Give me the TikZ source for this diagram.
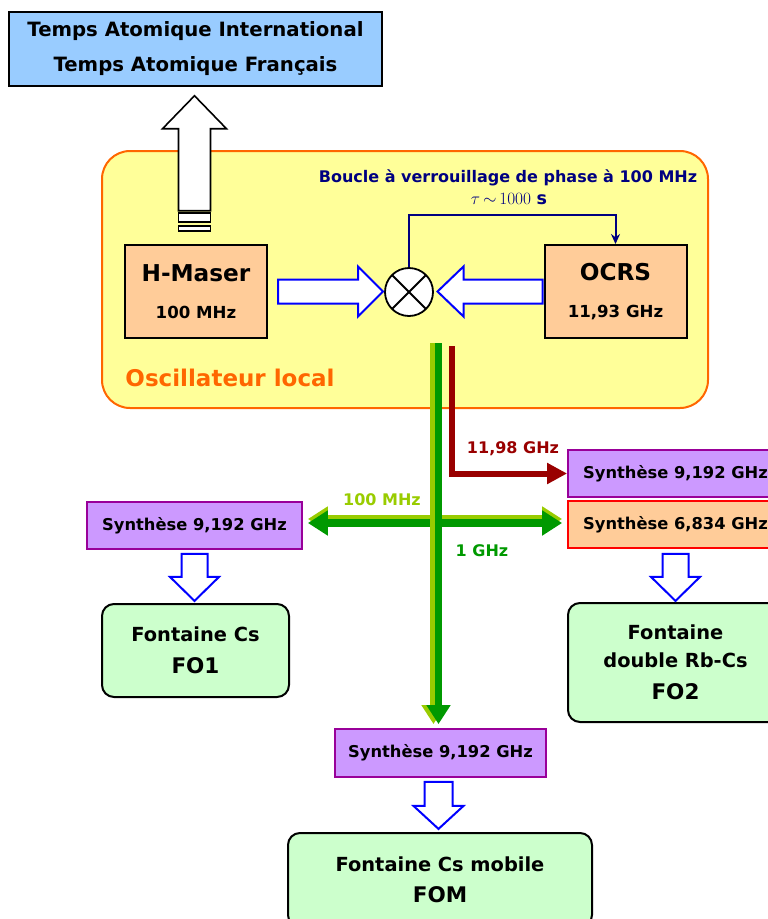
\documentclass[tikz,border=0pt]{standalone}
\usepackage{fontspec}
\setmainfont{DejaVu Sans}
\usetikzlibrary{arrows.meta, positioning, calc}
\definecolor{cTai}{RGB}{153,204,255}
\definecolor{cLo}{RGB}{255,255,153}
\definecolor{cOrange}{RGB}{255,102,0}
\definecolor{cOsc}{RGB}{255,204,153}
\definecolor{cSynth}{RGB}{204,153,255}
\definecolor{cPurple}{RGB}{153,0,153}
\definecolor{cFont}{RGB}{204,255,204}
\definecolor{cNavy}{RGB}{0,0,128}
\definecolor{cGreen}{RGB}{0,153,0}
\definecolor{cLime}{RGB}{153,204,0}
\definecolor{cDarkRed}{RGB}{153,0,0}
\definecolor{cBlue}{RGB}{0,0,255}
\tikzset{
	tai/.style      ={rectangle, draw=black, line width=1.5pt, fill=cTai, minimum width=373pt, minimum height=74pt, align=center, font=\bfseries\fontsize{19.7}{35}\selectfont},
	lobox/.style    ={rectangle, rounded corners=28pt, draw=cOrange, line width=2pt, fill=cLo, minimum width=606pt, minimum height=257pt},
	osc/.style      ={rectangle, draw=black, line width=2pt, fill=cOsc, minimum width=142pt, minimum height=93pt, align=center, font=\bfseries\fontsize{16.6}{19}\selectfont},
	synth/.style    ={rectangle, draw=cPurple, line width=1.8pt, fill=cSynth, minimum width=215pt, minimum height=47pt, font=\bfseries\fontsize{16.3}{19}\selectfont},
	fontaine/.style ={rectangle, rounded corners=12pt, draw=black, line width=2pt, fill=cFont, align=center, font=\bfseries\fontsize{19.4}{28}\selectfont},
	mixer/.style    ={circle, draw=black, line width=1.8pt, fill=white, minimum size=48pt, inner sep=0pt},
	lbl/.style      ={font=\bfseries\fontsize{16}{19}\selectfont},
	% block arrows
	hollow/.style   ={draw=cBlue, line width=2pt, fill=white, line join=miter},
	fatup/.style    ={draw=black, line width=1.6pt, fill=white},
	% signal lines
	pll/.style      ={cNavy, line width=2pt, -{Stealth[length=10pt, width=9pt]}},
	gsig/.style     ={line width=7.5pt, -{Triangle[length=19pt, width=23pt]}},
	gsigg/.style    ={line width=7.5pt, {Triangle[length=20pt, width=24pt]}-{Triangle[length=20pt, width=24pt]}},
	rsig/.style     ={cDarkRed, line width=6pt, -{Triangle[length=20pt, width=20pt]}},
}
\begin{document}
\begin{tikzpicture}[x=1pt, y=-1pt]
	\clip (0,0) rectangle (768,919);
	% time scales
	\node[tai] (tai) at (195.5,49) {Temps Atomique International\\Temps Atomique Français};
	% local oscillator
	\node[lobox] (lo) at (405,279.5) {};
	\node[font=\bfseries\fontsize{23}{27}\selectfont, text=cOrange] (lolbl) at (230,378) {Oscillateur local};
	\draw[fatup] ($(tai.south)+(-17,124)$) -- ++(0,-82) -- ++(-16,0) -- ++(32,-33) -- ++(32,33) -- ++(-16,0) -- ++(0,82) -- cycle;
	\draw[fatup] (178.5,213) rectangle ++(32,9);
	\draw[fatup] (178.5,226) rectangle ++(32,5);
	\node[osc] (hm) at (196,291.5) {{\fontsize{23.2}{26}\selectfont H-Maser}\\[18pt]100 MHz};
	\node[osc] (ocrs) at (615.5,291.5) {{\fontsize{23.2}{26}\selectfont OCRS}\\[18pt]11,93 GHz};
	\node[mixer, path picture={\draw[line width=1.8pt] (path picture bounding box.north west) -- (path picture bounding box.south east) (path picture bounding box.south west) -- (path picture bounding box.north east);}] (mix) at (409,292) {};
	\node[lbl, text=cNavy] (pllname) at (508,178) {Boucle à verrouillage de phase à 100 MHz};
	\node[text=cNavy, font=\fontsize{17.5}{20}\selectfont] (plltau) at (509,199) {$\tau\,{\sim}\,1000$ \textbf{s}};
	\draw[pll] (mix.north) -- ++(0,-52) -| (ocrs.north);
	\draw[hollow] ($(hm.east)+(10,-12)$) -- ++(80,0) -- ++(0,-13) -- ++(25,25) -- ++(-25,25) -- ++(0,-13) -- ++(-80,0) -- cycle;
	\draw[hollow] ($(ocrs.west)+(-1,-12)$) -- ++(-79,0) -- ++(0,-13) -- ++(-26,25) -- ++(26,25) -- ++(0,-13) -- ++(79,0) -- cycle;
	% synthesizers
	\node[synth] (s1) at (194.5,525.5) {Synthèse 9,192 GHz};
	\node[synth] (s2) at (675.5,473.5) {Synthèse 9,192 GHz};
	\node[synth, draw=red, fill=cOsc] (s3) at (675.5,524.5) {Synthèse 6,834 GHz};
	\node[synth, minimum width=211pt, minimum height=48pt] (s4) at (440.5,753) {Synthèse 9,192 GHz};
	% fountains
	\node[fontaine, minimum width=187pt, minimum height=93pt] (fo1) at (195.5,650.5) {Fontaine Cs\\[3.5pt]{\fontsize{21.5}{28}\selectfont FO1}};
	\node[fontaine, minimum width=215pt, minimum height=119pt] (fo2) at (675.5,662.5) {Fontaine\\double Rb-Cs\\[3.5pt]{\fontsize{21.5}{28}\selectfont FO2}};
	\node[fontaine, minimum width=304pt, minimum height=94pt] (fom) at (440,880) {Fontaine Cs mobile\\[3.5pt]{\fontsize{21.5}{28}\selectfont FOM}};
	% distribution
	\coordinate (gtop) at (438.5,343);
	\coordinate (gmid) at (438.5,523);
	\coordinate (rtop) at (452,346);
	\draw[gsigg, cLime] ($(gmid -| s1.east)+(5,-4)$) -- ($(gmid -| s3.west)+(-5,-4)$);
	\draw[gsigg, cGreen] ($(gmid -| s1.east)+(5,0)$) -- ($(gmid -| s3.west)+(-5,0)$);
	\draw[gsig, cLime] ($(gtop)+(-5,0)$) -- ($(gtop |- s4.north)+(-5,-4)$);
	\draw[gsig, cGreen] (gtop) -- ($(gtop |- s4.north)+(0,-4)$);
	\draw[rsig] (rtop) |- (s2.west);
	\node[lbl, text=cDarkRed] (f1198) at (513,449) {11,98 GHz};
	\node[lbl, text=cLime] (f100) at (382,500) {100 MHz};
	\node[lbl, text=cGreen] (f1g) at (482,551) {1 GHz};
	\draw[hollow] ($(s1.south)+(-13,4)$) -- ++(0,23) -- ++(-11.5,0) -- ++(24.5,24) -- ++(24.5,-24) -- ++(-11.5,0) -- ++(0,-23) -- cycle;
	\draw[hollow] ($(s3.south)+(-13,5)$) -- ++(0,23) -- ++(-11.5,0) -- ++(24.5,24) -- ++(24.5,-24) -- ++(-11.5,0) -- ++(0,-23) -- cycle;
	\draw[hollow] ($(s4.south)+(-16,4)$) -- ++(0,24) -- ++(-11,0) -- ++(25,23) -- ++(25,-23) -- ++(-11,0) -- ++(0,-24) -- cycle;
\end{tikzpicture}
\end{document}
